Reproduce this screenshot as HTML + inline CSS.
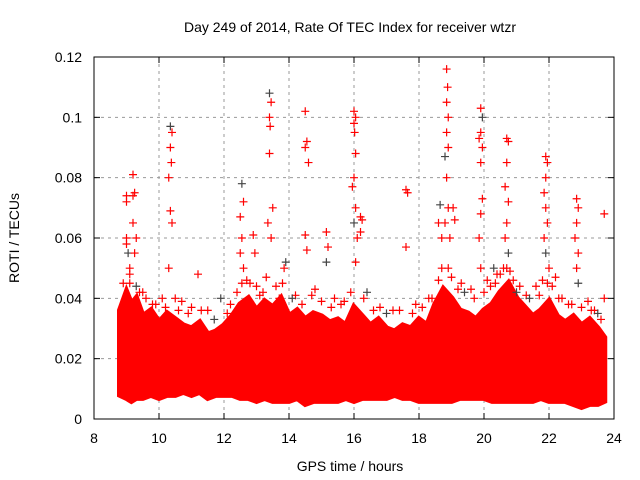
<!DOCTYPE html>
<html><head><meta charset="utf-8"><style>
body{margin:0;background:#fff}
svg{display:block;font-family:"Liberation Sans",sans-serif}
</style></head><body>
<svg id="chart" width="640" height="480" viewBox="0 0 640 480">
<text x="350" y="32" font-size="14" text-anchor="middle">Day 249 of 2014, Rate Of TEC Index for receiver wtzr</text>
<text x="350" y="471" font-size="14" text-anchor="middle">GPS time / hours</text>
<text transform="translate(19,238) rotate(-90)" font-size="14" text-anchor="middle">ROTI / TECUs</text>
<g id="grid"></g><g id="band"></g><g id="pts"></g><g id="axes"></g>
</svg>
<script>
const xTicks=[8,10,12,14,16,18,20,22,24];
const yTicks=[0,0.02,0.04,0.06,0.08,0.1,0.12];
const yLabels=["0","0.02","0.04","0.06","0.08","0.1","0.12"];
const bandTimes=[8.8,9.0,9.15,9.3,9.5,9.75,10,10.25,10.5,10.75,11,11.25,11.5,11.75,12,12.25,12.5,12.75,13,13.25,13.5,13.75,14,14.25,14.5,14.75,15,15.25,15.5,15.75,16,16.25,16.5,16.75,17,17.25,17.5,17.75,18,18.25,18.5,18.75,19,19.25,19.5,19.75,20,20.25,20.5,20.75,21,21.25,21.5,21.75,22,22.25,22.5,22.75,23,23.25,23.5,23.7];
const bandHigh=[0.036,0.042,0.038,0.04,0.034,0.036,0.032,0.035,0.033,0.031,0.03,0.032,0.028,0.029,0.031,0.034,0.038,0.04,0.036,0.039,0.037,0.04,0.034,0.036,0.033,0.035,0.034,0.032,0.033,0.031,0.037,0.034,0.031,0.033,0.03,0.029,0.031,0.03,0.033,0.031,0.038,0.043,0.04,0.036,0.035,0.033,0.036,0.038,0.042,0.045,0.04,0.037,0.034,0.036,0.039,0.034,0.032,0.034,0.031,0.033,0.03,0.027];
const bandLow=[0.008,0.007,0.006,0.007,0.007,0.008,0.007,0.008,0.008,0.009,0.008,0.009,0.007,0.008,0.008,0.008,0.007,0.007,0.006,0.007,0.006,0.006,0.006,0.007,0.005,0.006,0.006,0.006,0.006,0.007,0.006,0.007,0.007,0.007,0.007,0.008,0.007,0.007,0.006,0.006,0.006,0.006,0.006,0.007,0.007,0.007,0.007,0.006,0.006,0.006,0.006,0.006,0.006,0.007,0.006,0.006,0.006,0.005,0.004,0.005,0.005,0.006];
const ptTimes=[9.0,9.0,9.0,9.0,9.05,9.1,9.1,9.2,9.25,9.2,9.2,9.3,9.25,10.35,10.4,10.35,10.38,10.3,10.35,10.4,10.3,11.2,12.55,12.6,12.5,12.55,12.5,12.6,12.55,12.9,12.95,13.4,13.45,13.4,13.42,13.4,13.5,13.35,13.45,13.85,13.9,14.5,14.55,14.5,14.6,14.5,14.55,15.15,15.2,15.15,16.0,16.05,16.0,16.02,16.05,16.0,15.95,16.05,16.0,16.1,16.05,16.2,16.25,16.2,17.6,17.65,17.6,18.65,18.6,18.7,18.85,18.88,18.85,18.9,18.85,18.9,18.8,18.85,18.9,18.8,18.95,18.9,19.05,19.1,19.9,19.95,19.9,19.85,19.95,19.9,19.95,19.9,19.85,19.9,20.3,20.35,20.7,20.75,20.7,20.65,20.75,20.7,20.65,20.75,20.7,21.9,21.95,21.9,21.85,21.9,21.95,21.85,21.9,22.0,21.95,22.85,22.9,22.85,22.8,22.9,22.85,22.9,23.7,23.7,9.5,9.8,10.1,10.7,11.0,11.5,11.9,12.2,12.8,13.2,13.7,14.2,14.8,15.4,15.7,16.4,16.8,17.2,17.9,18.3,19.3,19.6,20.1,20.5,21.0,21.3,21.6,22.3,22.6,23.2,23.4,8.9,9.1,9.3,9.4,9.6,9.9,10.2,10.5,10.6,10.9,11.3,11.7,12.1,12.4,12.7,13.0,13.1,13.3,13.6,13.8,14.1,14.4,14.7,15.0,15.3,15.6,15.9,16.3,16.6,17.0,17.4,17.8,18.1,18.4,18.6,18.7,19.0,19.2,19.4,19.7,20.0,20.2,20.4,20.6,20.8,20.9,21.1,21.4,21.7,21.8,22.1,22.2,22.4,22.7,23.0,23.3,23.5,23.6];
const ptVals=[0.074,0.072,0.06,0.058,0.055,0.05,0.045,0.081,0.075,0.074,0.065,0.06,0.055,0.097,0.095,0.09,0.085,0.08,0.069,0.065,0.05,0.048,0.078,0.072,0.067,0.06,0.055,0.05,0.045,0.061,0.055,0.108,0.105,0.1,0.097,0.088,0.07,0.065,0.06,0.05,0.052,0.102,0.092,0.09,0.085,0.061,0.056,0.062,0.057,0.052,0.102,0.1,0.098,0.095,0.088,0.08,0.077,0.07,0.065,0.06,0.052,0.067,0.066,0.062,0.076,0.075,0.057,0.071,0.065,0.06,0.116,0.11,0.105,0.1,0.095,0.09,0.087,0.08,0.07,0.065,0.06,0.05,0.07,0.066,0.103,0.1,0.095,0.093,0.09,0.085,0.073,0.068,0.06,0.05,0.05,0.045,0.093,0.092,0.085,0.077,0.072,0.065,0.06,0.055,0.05,0.087,0.085,0.08,0.075,0.07,0.065,0.06,0.055,0.05,0.045,0.073,0.07,0.065,0.06,0.055,0.05,0.045,0.068,0.04,0.042,0.038,0.04,0.039,0.037,0.036,0.04,0.038,0.045,0.042,0.04,0.041,0.043,0.04,0.039,0.042,0.037,0.036,0.038,0.04,0.045,0.043,0.046,0.048,0.042,0.041,0.044,0.04,0.038,0.039,0.036,0.045,0.048,0.044,0.042,0.04,0.038,0.037,0.04,0.036,0.035,0.036,0.033,0.035,0.042,0.046,0.044,0.041,0.047,0.044,0.045,0.04,0.038,0.041,0.039,0.037,0.038,0.042,0.04,0.036,0.035,0.036,0.035,0.037,0.04,0.046,0.05,0.047,0.043,0.042,0.04,0.042,0.044,0.048,0.05,0.049,0.046,0.044,0.04,0.041,0.046,0.044,0.047,0.04,0.038,0.037,0.036,0.035,0.033];
const X=t=>94+(t-8)*32.5, Y=v=>419-v*3016.7;
const NS="http://www.w3.org/2000/svg";
function mk(tag,attrs,parent){const e=document.createElementNS(NS,tag);for(const k in attrs)e.setAttribute(k,attrs[k]);document.getElementById(parent).appendChild(e);return e;}
xTicks.forEach((t,i)=>{
  if(i>0&&i<xTicks.length-1){const g=mk('line',{x1:X(t),x2:X(t),y1:57,y2:419,stroke:'#999','stroke-dasharray':'3,4'},'grid');
  
  }
  const l=mk('text',{x:X(t),y:443,'font-size':14,'text-anchor':'middle'},'axes');l.textContent=t;
  
  
  mk('line',{x1:X(t),x2:X(t),y1:419,y2:413,stroke:'#000'},'axes');
  mk('line',{x1:X(t),x2:X(t),y1:57,y2:63,stroke:'#000'},'axes');
});
yTicks.forEach((v,i)=>{
  if(i>0&&i<yTicks.length-1){const g=mk('line',{x1:94,x2:614,y1:Y(v),y2:Y(v),stroke:'#999','stroke-dasharray':'3,4'},'grid');
  
  }
  const l=mk('text',{x:82,y:Y(v)+5,'font-size':14,'text-anchor':'end'},'axes');l.textContent=yLabels[i];
  
  
  mk('line',{x1:94,x2:100,y1:Y(v),y2:Y(v),stroke:'#000'},'axes');
  mk('line',{x1:614,x2:608,y1:Y(v),y2:Y(v),stroke:'#000'},'axes');
});
const frame=mk('rect',{x:94,y:57,width:520,height:362,fill:'none',stroke:'#000'},'axes');


let d='M'+bandTimes.map((t,i)=>X(t)+','+Y(bandHigh[i])).join('L');
for(let i=bandTimes.length-1;i>=0;i--)d+='L'+X(bandTimes[i])+','+Y(bandLow[i]);
const band=mk('path',{d:d+'Z',fill:'#f00',stroke:'#f00','stroke-width':6,'stroke-linejoin':'miter'},'band');


ptTimes.forEach((t,i)=>{
  const x=X(t),y=Y(ptVals[i]);
  const p=mk('path',{d:`M${x-4},${y}h8M${x},${y-4}v8`,stroke:(i%9==4)?'#444':'#f00','stroke-width':1.2},'pts');
  
  
});
</script>
</body></html>
